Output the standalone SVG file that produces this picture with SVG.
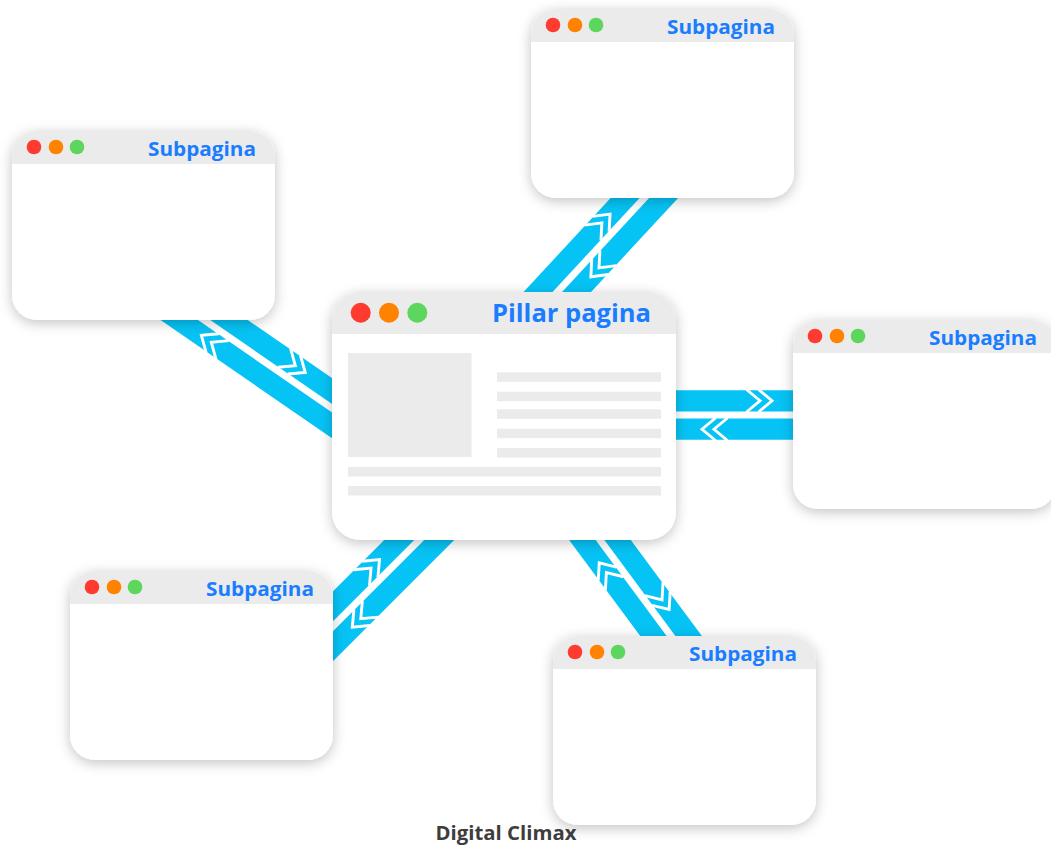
<svg xmlns="http://www.w3.org/2000/svg" xmlns:xlink="http://www.w3.org/1999/xlink" width="1051" height="846" viewBox="0 0 1051 846">
<style>
.band{fill:#06c3f5}
.chev{fill:none;stroke:#ffffff;stroke-width:2.9;stroke-linejoin:miter}
.card{fill:#ffffff;filter:url(#sh)}
.hdr{fill:#ebebeb}
.blk{fill:#ebebeb}
.r{fill:#ff3b2f}
.o{fill:#ff8200}
.g{fill:#5cd65c}
.t{font-family:"Open Sans","Liberation Sans",sans-serif;font-weight:700;fill:#1a7dff}
.brand{font-family:"Open Sans","Liberation Sans",sans-serif;font-weight:700;fill:#3d3d3d;font-size:19px}
</style>
<defs>
<filter id="sh" x="-20%" y="-20%" width="140%" height="150%">
<feDropShadow dx="0" dy="3" stdDeviation="6.5" flood-color="#000" flood-opacity="0.24"/>
</filter>
<g id="co">
<polyline class="chev" points="-13.5,-25.5 0,-14.25 -13.5,-3"/>
<polyline class="chev" points="-1.5,-25.5 12,-14.25 -1.5,-3"/>
</g>
<g id="ci">
<polyline class="chev" points="13.5,3 0,14.25 13.5,25.5"/>
<polyline class="chev" points="25.5,3 12,14.25 25.5,25.5"/>
</g>
<g id="sub">
<rect class="card" x="0" y="0" width="263" height="189" rx="25"/>
<path class="hdr" d="M0,33 V25 A25,25 0 0 1 25,0 H238 A25,25 0 0 1 263,25 V33 Z"/>
<circle class="r" cx="22" cy="16" r="7.3"/>
<circle class="o" cx="44" cy="16" r="7.3"/>
<circle class="g" cx="65" cy="16" r="7.3"/>
<text class="t" x="244" y="25" font-size="19" text-anchor="end" textLength="108" lengthAdjust="spacingAndGlyphs">Subpagina</text>
</g>
</defs>

<g id="connectors">
<g id="c-left" transform="translate(331.7,408) rotate(214.6)">
<rect class="band" x="-25" y="-24.75" width="230" height="21.25"/>
<rect class="band" x="-25" y="3.5" width="230" height="21.25"/>
<use href="#ci" x="42"/>
<use href="#co" x="136.5"/>
</g>
<g id="c-top" transform="translate(557.3,292) rotate(-47.2)">
<rect class="band" x="-25" y="-24.75" width="185" height="21.25"/>
<rect class="band" x="-25" y="3.5" width="185" height="21.25"/>
<use href="#ci" x="34"/>
<use href="#co" x="81"/>
</g>
<g id="c-right" transform="translate(676,415)">
<rect class="band" x="-20" y="-24.75" width="158" height="21.25"/>
<rect class="band" x="-20" y="3.5" width="158" height="21.25"/>
<use href="#ci" x="26"/>
<use href="#co" x="84"/>
</g>
<g id="c-bl" transform="translate(419.3,540) rotate(135)">
<rect class="band" x="-30" y="-24.75" width="180" height="21.25"/>
<rect class="band" x="-30" y="3.5" width="180" height="21.25"/>
<use href="#ci" x="42"/>
<use href="#co" x="97"/>
</g>
<g id="c-br" transform="translate(600,540) rotate(53.5)">
<rect class="band" x="-25" y="-24.75" width="175" height="21.25"/>
<rect class="band" x="-25" y="3.5" width="175" height="21.25"/>
<use href="#ci" x="18"/>
<use href="#co" x="85"/>
</g>
</g>

<g id="sub-top"><use href="#sub" x="531" y="9"/></g>
<g id="sub-left"><use href="#sub" x="12" y="131"/></g>
<g id="sub-right"><use href="#sub" x="793" y="320"/></g>
<g id="sub-bottomleft"><use href="#sub" x="70" y="571"/></g>
<g id="sub-bottomright"><use href="#sub" x="553" y="636"/></g>

<g id="pillar">
<rect class="card" x="332" y="292" width="344" height="248" rx="28"/>
<path class="hdr" d="M332,334 V320 A28,28 0 0 1 360,292 H648 A28,28 0 0 1 676,320 V334 Z"/>
<circle class="r" cx="360.7" cy="312.7" r="10"/>
<circle class="o" cx="389" cy="312.7" r="10"/>
<circle class="g" cx="417.3" cy="312.7" r="10"/>
<text class="t" x="651" y="322" font-size="25.5" text-anchor="end" textLength="159" lengthAdjust="spacingAndGlyphs">Pillar pagina</text>
<rect class="blk" x="348" y="353" width="123.5" height="104"/>
<rect class="blk" x="497" y="372.3" width="164" height="9.5"/>
<rect class="blk" x="497" y="391.7" width="164" height="9.5"/>
<rect class="blk" x="497" y="409.3" width="164" height="9.5"/>
<rect class="blk" x="497" y="428.7" width="164" height="9.5"/>
<rect class="blk" x="497" y="448" width="164" height="9.5"/>
<rect class="blk" x="348" y="467" width="313" height="9.5"/>
<rect class="blk" x="348" y="486" width="313" height="9.5"/>
</g>

<text class="brand" x="506" y="840" text-anchor="middle" textLength="141" lengthAdjust="spacingAndGlyphs">Digital Climax</text>
</svg>
